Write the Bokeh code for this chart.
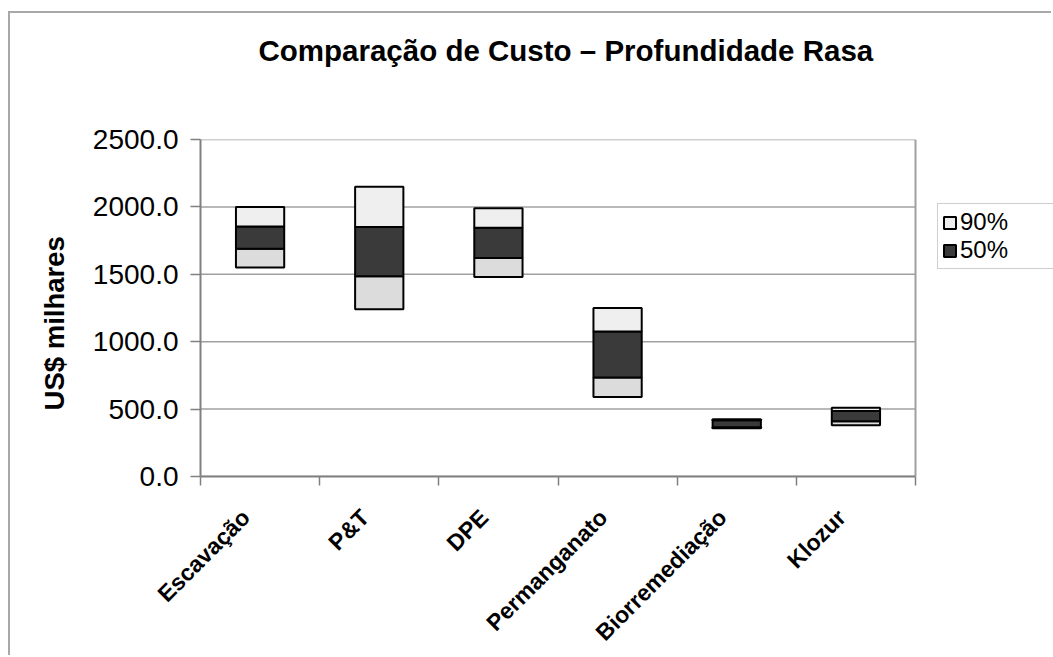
import math
from bokeh.plotting import figure
from bokeh.models import (Range1d, FixedTicker, NumeralTickFormatter, Legend,
                          LegendItem, ColumnDataSource, Title)
from bokeh.embed import file_html
from bokeh.resources import INLINE

# ---- data ----
categories = ["Escavação", "P&T", "DPE", "Permanganato", "Biorremediação", "Klozur"]
base_start = [1550, 1240, 1480, 590, 358, 380]    # start of each bar (invisible series)
lower_top = [1690, 1485, 1620, 735, 365, 410]     # top of the light lower segment
median_top = [1855, 1850, 1845, 1075, 418, 485]   # top of the dark "50%" segment
upper_top = [2000, 2150, 1990, 1250, 425, 510]    # top of the "90%" segment
y_ticks = [0, 500, 1000, 1500, 2000, 2500]
series_names = ["90%", "50%"]
title_text = "Comparação de Custo – Profundidade Rasa"
y_label = "US$ milhares"

FONT = "Liberation Sans"

# ---- layout constants (pixels) ----
W, H = 1043, 644
LEFT, TOP, BOTTOM = 190, 126, 179
PLOT_W = 715                      # width of the category area
n = len(categories)
x_end = n * (W - LEFT) / PLOT_W   # frame extends to the right edge (legend area)

xs = [i + 0.5 for i in range(n)]
label_pos = [x - 0.12 for x in xs]   # rotated labels end slightly left of the bar centre
src = ColumnDataSource(dict(x=xs, b0=base_start, b1=lower_top, b2=median_top, b3=upper_top))

p = figure(width=W, height=H, output_backend="svg", toolbar_location=None,
           x_range=Range1d(0, x_end), y_range=Range1d(y_ticks[0], y_ticks[-1]),
           title=None, min_border_left=LEFT, min_border_right=0,
           min_border_top=TOP, min_border_bottom=BOTTOM)
p.styles = {"margin-left": "10px", "margin-top": "13px",
            "box-shadow": "-2px -2px 0 0 #a8a8a8"}

p.background_fill_color = "white"
p.border_fill_color = "white"
p.outline_line_color = None
p.xgrid.visible = False
p.ygrid.visible = False

# plot-area grid lines and right border
p.segment(x0=0, x1=n, y0=y_ticks, y1=y_ticks, line_color="#a0a0a0",
          line_width=1.5, level="underlay")
p.segment(x0=[n], x1=[n], y0=[y_ticks[0]], y1=[y_ticks[-1]], line_color="#a0a0a0",
          line_width=2, level="underlay")

bw = 0.405
r_low = p.vbar(x="x", bottom="b0", top="b1", width=bw, source=src,
               fill_color="#dcdcdc", line_color="black", line_width=2)
r_mid = p.vbar(x="x", bottom="b1", top="b2", width=bw, source=src,
               fill_color="#3a3a3a", line_color="black", line_width=2)
r_high = p.vbar(x="x", bottom="b2", top="b3", width=bw, source=src,
                fill_color="#efefef", line_color="black", line_width=2)

# title (a spacer title keeps it high above the plot area)
p.add_layout(Title(text=" ", text_font_size="10px", standoff=60), "above")
p.add_layout(Title(text=title_text, align="left", offset=58, standoff=0,
                   text_font=FONT, text_font_style="bold", text_font_size="29.5px",
                   text_color="black"), "above")

# x axis
p.xaxis.bounds = (0, n)
p.xaxis.ticker = FixedTicker(ticks=label_pos, minor_ticks=list(range(n + 1)))
p.xaxis.major_label_overrides = {x: c for x, c in zip(label_pos, categories)}
p.xaxis.major_tick_in = 0
p.xaxis.major_tick_out = 0
p.xaxis.minor_tick_in = 0
p.xaxis.minor_tick_out = 9
p.xaxis.minor_tick_line_color = "#808080"
p.xaxis.minor_tick_line_width = 1.5
p.xaxis.axis_line_color = "#808080"
p.xaxis.axis_line_width = 2
p.xaxis.major_label_orientation = math.pi / 4
p.xaxis.major_label_text_font = FONT
p.xaxis.major_label_text_font_style = "bold"
p.xaxis.major_label_text_font_size = "23px"
p.xaxis.major_label_text_color = "black"
p.xaxis.major_label_standoff = 28

# y axis
p.yaxis.bounds = (y_ticks[0], y_ticks[-1])
p.yaxis.ticker = FixedTicker(ticks=y_ticks)
p.yaxis.formatter = NumeralTickFormatter(format="0.0")
p.yaxis.minor_tick_line_color = None
p.yaxis.major_tick_in = 0
p.yaxis.major_tick_out = 10
p.yaxis.major_tick_line_color = "#808080"
p.yaxis.major_tick_line_width = 1.5
p.yaxis.axis_line_color = "#808080"
p.yaxis.axis_line_width = 2
p.yaxis.major_label_text_font = FONT
p.yaxis.major_label_text_font_size = "28px"
p.yaxis.major_label_text_color = "black"
p.yaxis.major_label_standoff = 12
# trailing no-break spaces move the centred label a little lower, as in the original
p.yaxis.axis_label = y_label + "\u00a0" * 4
p.yaxis.axis_label_text_font = FONT
p.yaxis.axis_label_text_font_style = "bold"
p.yaxis.axis_label_text_font_size = "27.5px"
p.yaxis.axis_label_text_color = "black"
p.yaxis.axis_label_standoff = 20

legend = Legend(items=[LegendItem(label=series_names[0], renderers=[r_high]),
                       LegendItem(label=series_names[1], renderers=[r_mid])],
                location=(737, 207))
legend.border_line_color = "#a0a0a0"
legend.border_line_width = 1.5
legend.background_fill_color = "white"
legend.label_text_font = FONT
legend.label_text_font_size = "24px"
legend.label_text_color = "black"
legend.glyph_width = 15
legend.glyph_height = 15
legend.label_height = 16
legend.label_width = 90
legend.label_standoff = 3
legend.spacing = 0
legend.padding = 4
legend.margin = 0
p.add_layout(legend)

open("out.html", "w").write(file_html(p, INLINE))
